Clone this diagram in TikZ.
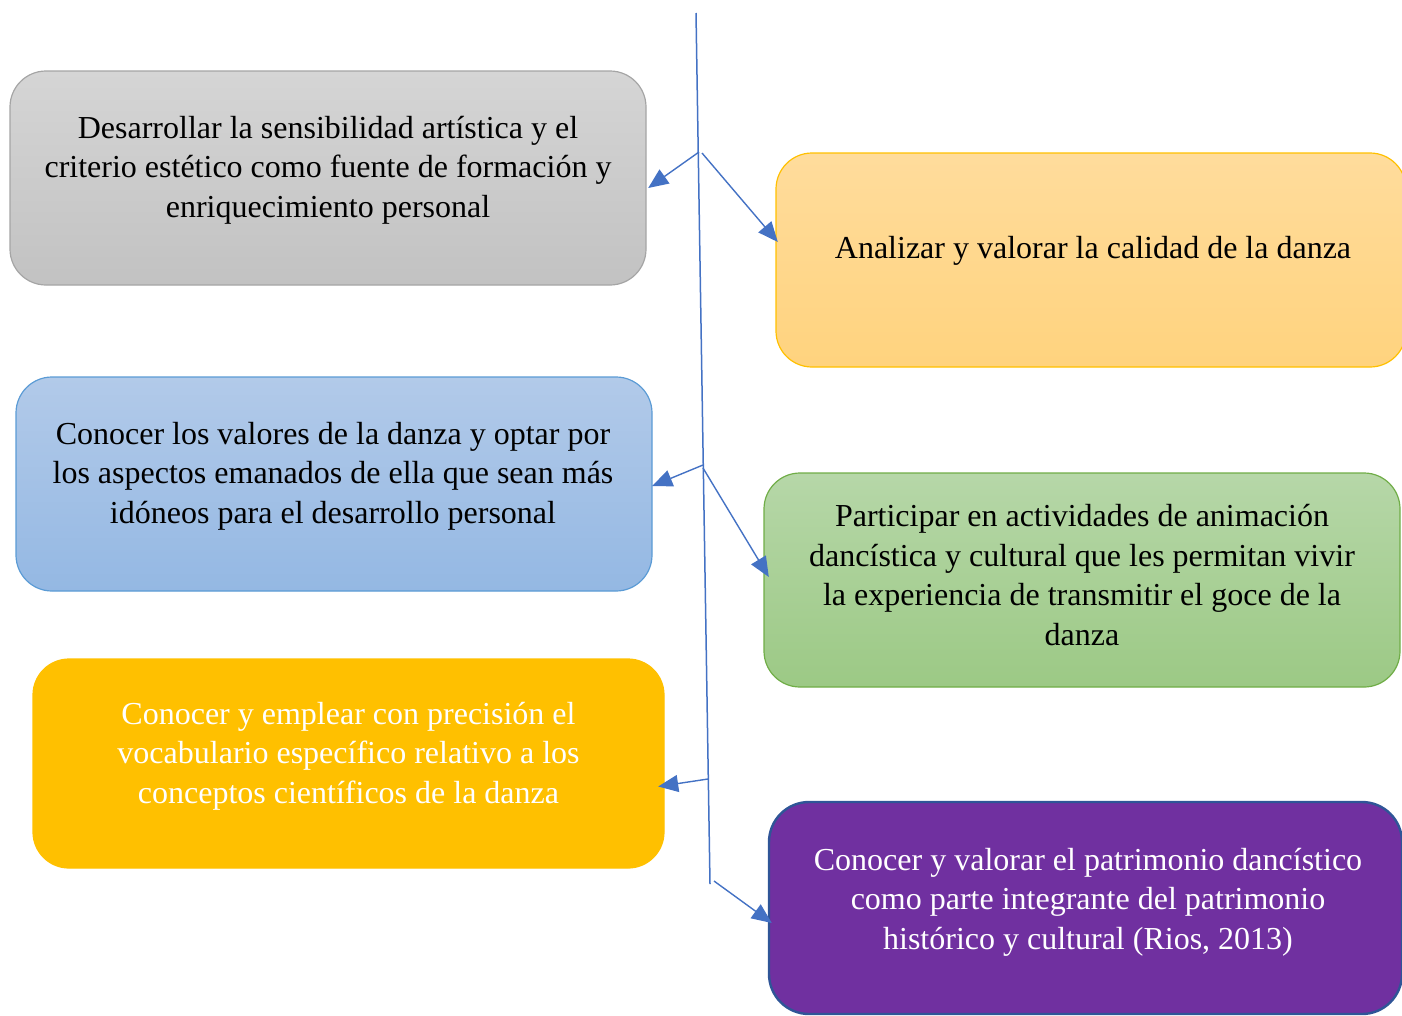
\documentclass[tikz,border=0pt]{standalone}
\usepackage{fontspec}
\setmainfont{Liberation Serif}
\usetikzlibrary{arrows.meta,calc}
\definecolor{lnk}{HTML}{4472C4}
\definecolor{grT}{HTML}{D5D5D5}\definecolor{grB}{HTML}{C2C2C2}\definecolor{grD}{HTML}{A5A5A5}
\definecolor{orT}{HTML}{FFDC9C}\definecolor{orB}{HTML}{FFD37E}\definecolor{orD}{HTML}{FFC000}
\definecolor{blT}{HTML}{B2CAE9}\definecolor{blB}{HTML}{94B8E3}\definecolor{blD}{HTML}{5B9BD5}
\definecolor{gnT}{HTML}{B6D7A8}\definecolor{gnB}{HTML}{9CC985}\definecolor{gnD}{HTML}{70AD47}
\definecolor{yel}{HTML}{FFC000}
\definecolor{pur}{HTML}{7030A0}\definecolor{purD}{HTML}{2F5597}
\begin{document}
\begin{tikzpicture}[x=1pt,y=-1pt,
  box/.style={rounded corners=36pt, line width=1.2pt},
  lbl/.style={align=center, inner sep=0pt, font=\fontsize{32}{39.5}\selectfont},
  arr/.style={draw=lnk, line width=1.4pt, -{Triangle[length=20pt,width=17pt]}},
  trunk/.style={draw=lnk, line width=1.5pt}]
\useasboundingbox (0,0) rectangle (1402,1015);
% boxes
\path[box, top color=grT, bottom color=grB, draw=grD] (10,71) rectangle (646,285);
\node[inner sep=0pt, minimum width=636pt, minimum height=214pt] (g) at (328,178) {};
\path[box, top color=orT, bottom color=orB, draw=orD] (776,153) rectangle (1406,367);
\node[inner sep=0pt, minimum width=630pt, minimum height=214pt] (o) at (1091,260) {};
\path[box, top color=blT, bottom color=blB, draw=blD] (16,377) rectangle (652,591);
\node[inner sep=0pt, minimum width=636pt, minimum height=214pt] (b) at (334,484) {};
\path[box, top color=gnT, bottom color=gnB, draw=gnD] (764,473) rectangle (1400,687);
\node[inner sep=0pt, minimum width=636pt, minimum height=214pt] (gr) at (1082,580) {};
\path[box, fill=yel, draw=yel] (33,659) rectangle (664,868);
\node[inner sep=0pt, minimum width=631pt, minimum height=209pt] (y) at (348.5,763.5) {};
\path[box, rounded corners=40pt, fill=pur, draw=purD, line width=2.4pt] (769,802) rectangle (1402,1014);
\node[inner sep=0pt, minimum width=633pt, minimum height=212pt] (p) at (1085.5,908) {};
% labels
\node[lbl] (gt) at (328,170) {Desarrollar la sensibilidad artística y el\\criterio estético como fuente de formación y\\enriquecimiento personal};
\node[lbl] (ot) at (1093,251) {Analizar y valorar la calidad de la danza};
\node[lbl] (bt) at (333,476) {Conocer los valores de la danza y optar por\\los aspectos emanados de ella que sean más\\idóneos para el desarrollo personal};
\node[lbl] (grt) at (1082,575) {Participar en actividades de animación\\dancística y cultural que les permitan vivir\\la experiencia de transmitir el goce de la\\danza};
\node[lbl, text=white] (yt) at (348.5,756) {Conocer y emplear con precisión el\\vocabulario específico relativo a los\\conceptos científicos de la danza};
\node[lbl, text=white] (pt) at (1088,902) {Conocer y valorar el patrimonio dancístico\\como parte integrante del patrimonio\\histórico y cultural (Rios, 2013)};
% trunk and connectors
\coordinate (t0) at (696,13);
\coordinate (t1) at (710,884);
\draw[trunk] (t0) -- (t1);
\coordinate (j1) at (699,152);
\coordinate (j2) at (702,153);
\coordinate (j3) at (703,465);
\coordinate (j4) at (703,468);
\coordinate (j5) at (708,779);
\coordinate (j6) at (714,881);
\draw[arr] (j1) -- ($(g.east)+(2,10)$);
\draw[arr] (j2) -- ($(o.west)+(2,-18)$);
\draw[arr] (j3) -- ($(b.east)+(0,2)$);
\draw[arr] (j4) -- ($(gr.west)+(5,-3)$);
\draw[arr] (j5) -- ($(y.east)+(-6,23)$);
\draw[arr] (j6) -- ($(p.west)+(3,15)$);
\end{tikzpicture}
\end{document}
